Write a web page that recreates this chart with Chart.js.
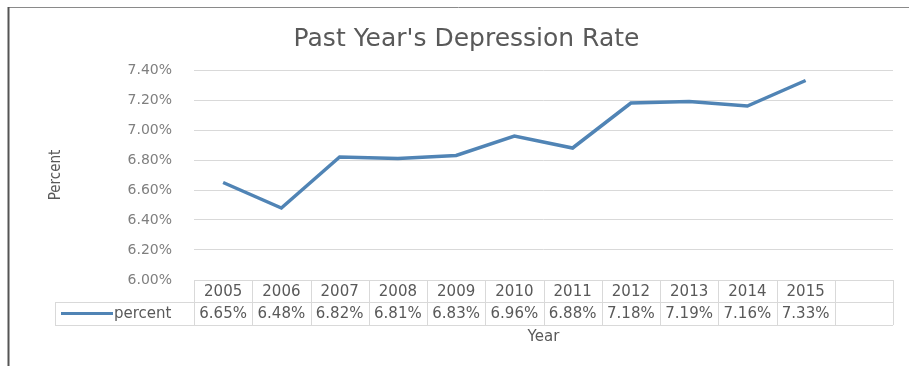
<!DOCTYPE html>
<html>
<head>
<meta charset="utf-8">
<script src="https://cdn.jsdelivr.net/npm/chart.js@4"></script>
<style>
  html, body { margin: 0; padding: 0; background: #fff; }
  #wrap { width: 909px; height: 366px; }
</style>
</head>
<body>
<div id="wrap"><canvas id="depressionChart" width="909" height="366"></canvas></div>
<script>
// Chart data
const years = ['2005', '2006', '2007', '2008', '2009', '2010', '2011', '2012', '2013', '2014', '2015'];
const percentValues = [6.65, 6.48, 6.82, 6.81, 6.83, 6.96, 6.88, 7.18, 7.19, 7.16, 7.33];
const seriesName = 'percent';
const yTicks = [6.0, 6.2, 6.4, 6.6, 6.8, 7.0, 7.2, 7.4];

const lineColor = '#5084b5';
const gridColor = '#d9d9d9';
const textColor = '#595959';

// Outer frame (left and top edges of the screenshot)
const framePlugin = {
    id: 'frame',
    beforeDraw(chart) {
        const ctx = chart.ctx;
        ctx.save();
        ctx.fillStyle = '#fff';
        ctx.fillRect(0, 0, chart.width, chart.height);
        ctx.strokeStyle = '#8a8a8a';
        ctx.lineWidth = 1;
        ctx.beginPath();
        ctx.moveTo(8, 7.5);
        ctx.lineTo(chart.width, 7.5);
        ctx.stroke();
        ctx.strokeStyle = '#555';
        ctx.lineWidth = 2;
        ctx.beginPath();
        ctx.moveTo(8.5, 7);
        ctx.lineTo(8.5, chart.height);
        ctx.stroke();
        ctx.restore();
    }
};

// Excel style data table under the plot
const dataTablePlugin = {
    id: 'dataTable',
    afterDraw(chart) {
        const {ctx, chartArea, scales: {x}} = chart;
        const n = x.getLabels().length;
        const w = (chartArea.right - chartArea.left) / n;
        const top = chartArea.bottom;
        const mid = top + 22;
        const bot = top + 45;
        const legendLeft = 55;

        ctx.save();
        ctx.strokeStyle = gridColor;
        ctx.lineWidth = 1;
        ctx.beginPath();
        ctx.moveTo(chartArea.left, top + 0.5);
        ctx.lineTo(chartArea.right, top + 0.5);
        ctx.moveTo(legendLeft, mid + 0.5);
        ctx.lineTo(chartArea.right, mid + 0.5);
        ctx.moveTo(legendLeft, bot + 0.5);
        ctx.lineTo(chartArea.right, bot + 0.5);
        ctx.moveTo(legendLeft + 0.5, mid);
        ctx.lineTo(legendLeft + 0.5, bot);
        for (let i = 0; i <= n; i++) {
            const px = Math.round(x.getPixelForValue(i) - w / 2) + 0.5;
            ctx.moveTo(px, top);
            ctx.lineTo(px, bot);
        }
        ctx.stroke();

        ctx.fillStyle = textColor;
        ctx.font = '15px "DejaVu Sans"';
        ctx.textAlign = 'center';
        ctx.textBaseline = 'middle';
        years.forEach((yr, i) => {
            const cx = x.getPixelForValue(i);
            ctx.fillText(yr, cx, (top + mid) / 2 + 1);
            ctx.fillText(percentValues[i].toFixed(2) + '%', cx, (mid + bot) / 2 + 1);
        });

        // legend key
        ctx.strokeStyle = lineColor;
        ctx.lineWidth = 3;
        ctx.beginPath();
        ctx.moveTo(legendLeft + 6, (mid + bot) / 2);
        ctx.lineTo(legendLeft + 58, (mid + bot) / 2);
        ctx.stroke();
        ctx.textAlign = 'left';
        ctx.fillText(seriesName, legendLeft + 59, (mid + bot) / 2 + 1);
        ctx.restore();
    }
};

const ctx = document.getElementById('depressionChart').getContext('2d');
const depressionChart = new Chart(ctx, {
    type: 'line',
    data: {
        labels: [...years, ''],
        datasets: [{
            label: seriesName,
            data: percentValues,
            borderColor: lineColor,
            borderWidth: 3.5,
            pointRadius: 0,
            tension: 0,
            fill: false
        }]
    },
    options: {
        responsive: false,
        animation: false,
        layout: { padding: { left: 40, right: 16, top: 0, bottom: 0 } },
        plugins: {
            legend: { display: false },
            tooltip: { enabled: false },
            title: {
                display: true,
                text: "Past Year's Depression Rate",
                color: textColor,
                font: { family: 'DejaVu Sans', size: 25, weight: 'normal' },
                padding: { top: 24, bottom: 16 }
            }
        },
        scales: {
            x: {
                type: 'category',
                offset: true,
                grid: { display: false },
                border: { display: false },
                ticks: { display: false },
                title: {
                    display: true,
                    text: 'Year',
                    color: textColor,
                    font: { family: 'DejaVu Sans', size: 15 },
                    padding: { top: 0, bottom: 20 }
                },
                afterFit(scale) { scale.height = 86; }
            },
            y: {
                min: yTicks[0],
                max: yTicks[yTicks.length - 1],
                afterBuildTicks(scale) { scale.ticks = yTicks.map(v => ({ value: v })); },
                grid: { color: gridColor, lineWidth: 1, drawTicks: false },
                border: { display: false },
                ticks: {
                    color: '#7f7f7f',
                    padding: 22,
                    font: { family: 'DejaVu Sans', size: 14 },
                    callback: v => v.toFixed(2) + '%'
                },
                title: {
                    display: true,
                    text: 'Percent',
                    color: textColor,
                    font: { family: "'DejaVu Sans Condensed', 'Liberation Sans Narrow', sans-serif", size: 15 },
                    padding: { top: 7, bottom: 0 }
                },
                afterFit(scale) { scale.width = 154; }
            }
        }
    },
    plugins: [framePlugin, dataTablePlugin]
});
</script>
</body>
</html>
